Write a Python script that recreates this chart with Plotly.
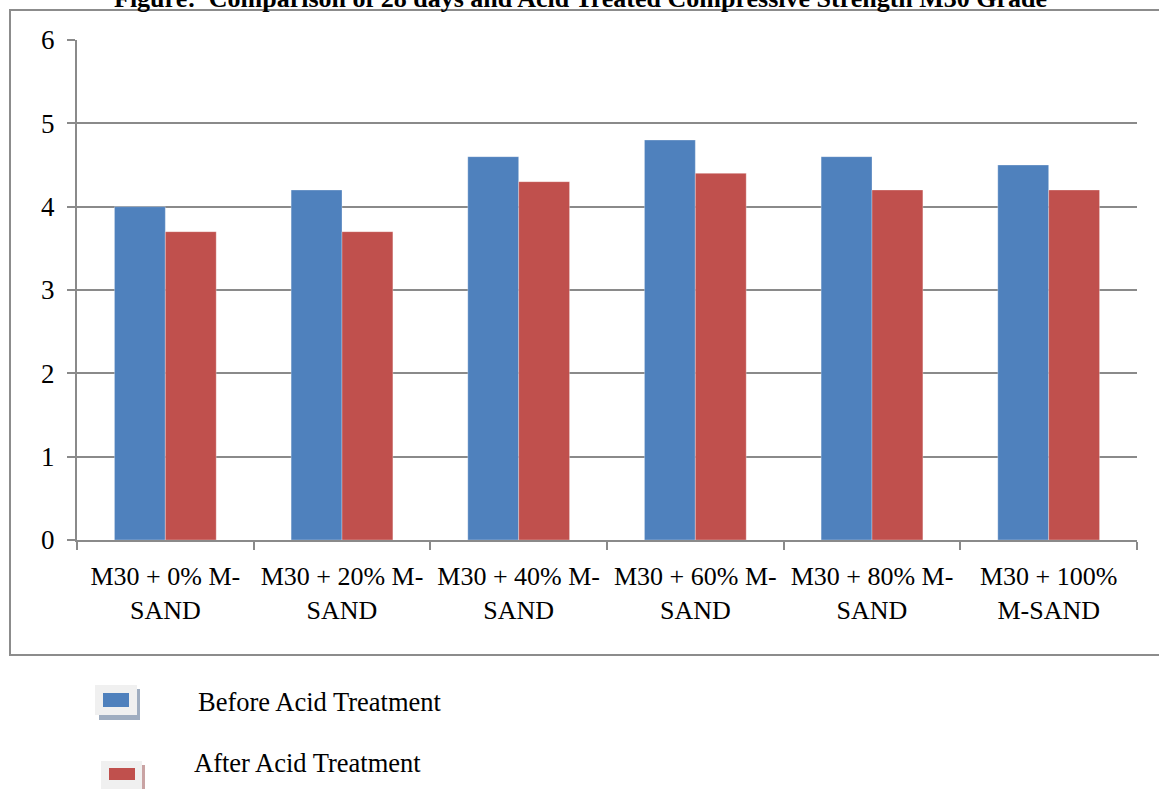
import plotly.graph_objects as go

# Compressive strength comparison, M30 grade with varying M-sand replacement
categories = [
    "M30 + 0% M-<br>SAND",
    "M30 + 20% M-<br>SAND",
    "M30 + 40% M-<br>SAND",
    "M30 + 60% M-<br>SAND",
    "M30 + 80% M-<br>SAND",
    "M30 + 100%<br>M-SAND",
]
before_acid = [4.0, 4.2, 4.6, 4.8, 4.6, 4.5]
after_acid = [3.7, 3.7, 4.3, 4.4, 4.2, 4.2]
series_names = ["Before Acid Treatment", "After Acid Treatment"]
series_colors = ["#4F81BD", "#C0504D"]
y_ticks = [0, 1, 2, 3, 4, 5, 6]

W, H = 1159, 789
ML, MR, MT, MB = 77, 22, 40, 249
PW, PH = W - ML - MR, H - MT - MB


def px_x(px):
    return (px - ML) / PW


def px_y(py):
    return (H - MB - py) / PH


FONT = "Liberation Serif, Times New Roman, serif"
GRID = "#8a8a8a"

fig = go.Figure()
for name, vals, col in zip(series_names, [before_acid, after_acid], series_colors):
    fig.add_trace(go.Bar(
        x=categories, y=vals, name=name,
        marker=dict(color=col, line=dict(width=0.6, color="rgba(255,255,255,0.5)")),
        showlegend=False,
    ))

shapes = [
    # outer chart frame
    dict(type="rect", xref="paper", yref="paper",
         x0=px_x(10), x1=px_x(1170), y0=px_y(655), y1=px_y(10),
         line=dict(color="#8c8c8c", width=2), fillcolor="rgba(0,0,0,0)", layer="below"),
]

# legend swatches: shadow, light box, coloured inner bar
legend_boxes = [
    (95, 685, 137, 715, 103, 693, 129, 707, "#9fadc0", 197, 702),
    (101, 761, 142, 790, 109, 768, 135, 780, "#c9a3a3", 193, 763),
]
annotations = []
for (bx0, by0, bx1, by1, ix0, iy0, ix1, iy1, sh, tx, ty), name, col in zip(
        legend_boxes, series_names, series_colors):
    shapes.append(dict(type="rect", xref="paper", yref="paper",
                       x0=px_x(bx0 + 4), x1=px_x(bx1 + 3), y0=px_y(by1 + 5), y1=px_y(by0 + 4),
                       line=dict(width=0), fillcolor=sh))
    shapes.append(dict(type="rect", xref="paper", yref="paper",
                       x0=px_x(bx0), x1=px_x(bx1), y0=px_y(by1), y1=px_y(by0),
                       line=dict(width=0), fillcolor="#f0f0f0"))
    shapes.append(dict(type="rect", xref="paper", yref="paper",
                       x0=px_x(ix0), x1=px_x(ix1), y0=px_y(iy1), y1=px_y(iy0),
                       line=dict(width=0), fillcolor=col))
    annotations.append(dict(text=name, xref="paper", yref="paper",
                            x=px_x(tx - 1), y=px_y(ty), xanchor="left", yanchor="middle",
                            showarrow=False, font=dict(family=FONT, size=26.5, color="#000")))

annotations.append(dict(
    text="<b>Figure:  Comparison of 28 days and Acid Treated Compressive Strength M30 Grade</b>",
    xref="paper", yref="paper", x=px_x(580), y=px_y(-1), xanchor="center", yanchor="middle",
    showarrow=False, font=dict(family=FONT, size=26, color="#000")))

fig.update_layout(
    width=W, height=H,
    margin=dict(l=ML, r=MR, t=MT, b=MB, pad=0),
    paper_bgcolor="white", plot_bgcolor="white",
    barmode="group", bargap=0.424, bargroupgap=0,
    font=dict(family=FONT, size=26, color="#000"),
    shapes=shapes, annotations=annotations,
    xaxis=dict(
        showline=True, linecolor=GRID, linewidth=2,
        ticks="outside", tickson="boundaries", ticklen=8, tickcolor=GRID, tickwidth=2,
        tickfont=dict(family=FONT, size=26), showgrid=False, ticklabelstandoff=12,
    ),
    yaxis=dict(
        range=[0, 6], tickvals=y_ticks, showline=True, linecolor=GRID, linewidth=2,
        ticks="outside", ticklen=8, tickcolor=GRID, tickwidth=2,
        showgrid=True, gridcolor=GRID, gridwidth=2, zeroline=False,
        tickfont=dict(family=FONT, size=27), ticklabelstandoff=7,
    ),
)

fig.write_html("out.html")
